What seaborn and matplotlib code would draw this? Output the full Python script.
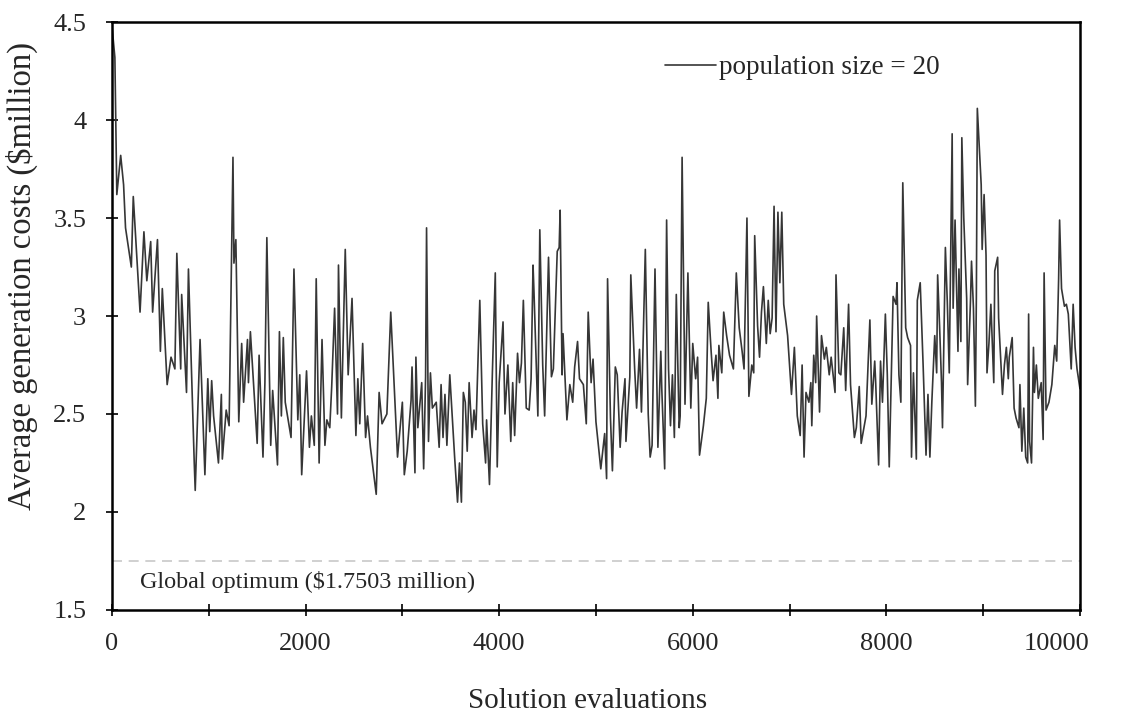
""" average generation cost of a GA run (population size = 20) against solution evaluations,
    with the known global optimum drawn as a dashed reference line """

import matplotlib
matplotlib.use('Agg')
import matplotlib.pyplot as plt # matplotlib graphing capabilities
import matplotlib.transforms as mtransforms
import seaborn as sns # seaborn graphing capabilities

# ~~~~~~~~~  Data  ~~~~ ~~~~~~ ~~~~~~~~~~~~ ~~~~~~~~~~ ~~~~ ~~~~~ ~~~~~~~~~~ ~ #
evaluations = [
    0, 30, 50, 90, 120, 140, 200, 220, 290, 330, 360, 400, 420, 470, 500, 520, 570, 610, 650, 670,
    710, 720, 770, 790, 850, 860, 910, 960, 990, 1010, 1030, 1050, 1100, 1130, 1140, 1180, 1210,
    1250, 1260, 1280, 1310, 1340, 1360, 1400, 1410, 1430, 1500, 1520, 1560, 1580, 1600, 1640, 1660,
    1710, 1730, 1750, 1770, 1790, 1850, 1880, 1920, 1940, 1960, 2010, 2040, 2060, 2090, 2110, 2140,
    2170, 2200, 2220, 2250, 2270, 2300, 2330, 2340, 2370, 2410, 2440, 2480, 2520, 2540, 2560, 2590,
    2620, 2640, 2670, 2730, 2760, 2790, 2840, 2880, 2950, 3000, 3020, 3050, 3090, 3100, 3130, 3140,
    3160, 3200, 3220, 3240, 3250, 3270, 3290, 3310, 3350, 3380, 3400, 3420, 3440, 3460, 3490, 3540,
    3570, 3590, 3610, 3630, 3650, 3670, 3690, 3720, 3740, 3760, 3800, 3830, 3860, 3870, 3900, 3930,
    3960, 3980, 4000, 4040, 4060, 4090, 4120, 4140, 4160, 4190, 4210, 4230, 4250, 4280, 4310, 4330,
    4350, 4360, 4400, 4420, 4450, 4470, 4510, 4540, 4560, 4600, 4620, 4630, 4650, 4660, 4700, 4730,
    4760, 4780, 4810, 4830, 4870, 4900, 4920, 4950, 4970, 5000, 5050, 5090, 5110, 5120, 5150, 5170,
    5200, 5220, 5250, 5270, 5300, 5310, 5350, 5360, 5400, 5420, 5450, 5470, 5480, 5510, 5540, 5560,
    5580, 5610, 5640, 5670, 5680, 5710, 5730, 5750, 5770, 5790, 5810, 5830, 5860, 5870, 5890, 5920,
    5950, 5980, 6000, 6030, 6050, 6070, 6110, 6140, 6160, 6190, 6210, 6240, 6260, 6270, 6300, 6320,
    6350, 6380, 6420, 6450, 6480, 6510, 6530, 6560, 6580, 6610, 6630, 6640, 6670, 6690, 6710, 6730,
    6760, 6780, 6800, 6820, 6840, 6860, 6880, 6900, 6920, 6940, 6980, 7020, 7050, 7080, 7110, 7130,
    7150, 7170, 7200, 7220, 7230, 7250, 7270, 7280, 7310, 7330, 7360, 7380, 7410, 7430, 7470, 7480,
    7510, 7530, 7560, 7580, 7610, 7630, 7670, 7690, 7720, 7740, 7790, 7830, 7850, 7880, 7890, 7920,
    7940, 7960, 7990, 8010, 8030, 8070, 8100, 8110, 8130, 8150, 8170, 8200, 8220, 8250, 8260, 8280,
    8310, 8320, 8350, 8380, 8410, 8430, 8450, 8470, 8500, 8520, 8530, 8550, 8570, 8580, 8610, 8630,
    8650, 8680, 8690, 8710, 8740, 8750, 8770, 8780, 8800, 8830, 8840, 8870, 8880, 8900, 8920, 8930,
    8940, 8980, 8990, 9010, 9030, 9040, 9060, 9080, 9110, 9120, 9150, 9160, 9200, 9220, 9240, 9260,
    9270, 9300, 9320, 9340, 9370, 9380, 9400, 9420, 9440, 9460, 9470, 9480, 9500, 9520, 9530, 9550,
    9570, 9600, 9620, 9630, 9650, 9680, 9710, 9740, 9760, 9780, 9790, 9810, 9840, 9860, 9880, 9910,
    9930, 9950, 9970, 10000]

avg_costs = [
    4.48, 4.32, 3.62, 3.82, 3.67, 3.45, 3.25, 3.61, 3.02, 3.43, 3.18, 3.38, 3.02, 3.39, 2.82, 3.14,
    2.65, 2.79, 2.73, 3.32, 2.73, 3.11, 2.61, 3.24, 2.25, 2.11, 2.88, 2.19, 2.68, 2.41, 2.67, 2.49,
    2.25, 2.60, 2.27, 2.52, 2.44, 3.81, 3.27, 3.39, 2.46, 2.86, 2.56, 2.88, 2.66, 2.92, 2.35, 2.80,
    2.28, 2.66, 3.40, 2.34, 2.62, 2.24, 2.92, 2.49, 2.89, 2.56, 2.38, 3.24, 2.47, 2.70, 2.19, 2.72,
    2.33, 2.49, 2.34, 3.19, 2.25, 2.88, 2.34, 2.47, 2.43, 2.64, 3.04, 2.50, 3.26, 2.48, 3.34, 2.70,
    3.09, 2.39, 2.68, 2.45, 2.86, 2.38, 2.49, 2.33, 2.09, 2.61, 2.45, 2.50, 3.02, 2.28, 2.56, 2.19,
    2.31, 2.57, 2.74, 2.20, 2.79, 2.43, 2.66, 2.22, 2.69, 3.45, 2.36, 2.71, 2.53, 2.56, 2.33, 2.65,
    2.38, 2.60, 2.34, 2.70, 2.28, 2.05, 2.25, 2.05, 2.61, 2.56, 2.31, 2.66, 2.38, 2.52, 2.42, 3.08,
    2.45, 2.25, 2.47, 2.14, 2.71, 3.22, 2.23, 2.66, 2.97, 2.50, 2.75, 2.36, 2.66, 2.39, 2.81, 2.66,
    2.76, 3.08, 2.53, 2.52, 2.68, 3.26, 3.12, 2.49, 3.44, 2.75, 2.49, 3.30, 2.69, 2.73, 3.33, 3.35,
    3.54, 2.70, 2.91, 2.47, 2.65, 2.56, 2.74, 2.87, 2.68, 2.65, 2.45, 3.02, 2.66, 2.78, 2.46, 2.22,
    2.40, 2.17, 3.19, 2.48, 2.21, 2.74, 2.70, 2.33, 2.51, 2.68, 2.36, 2.69, 3.21, 2.73, 2.53, 2.83,
    2.51, 2.71, 3.34, 2.50, 2.28, 2.34, 3.24, 2.33, 2.82, 2.63, 2.22, 3.49, 2.73, 2.44, 2.70, 2.38,
    3.11, 2.43, 2.49, 3.81, 2.55, 3.22, 2.53, 2.86, 2.68, 2.79, 2.29, 2.44, 2.58, 3.07, 2.82, 2.67,
    2.80, 2.58, 2.85, 2.71, 3.02, 2.90, 2.80, 2.73, 3.22, 2.94, 2.82, 2.73, 3.50, 2.59, 2.75, 2.71,
    3.41, 2.95, 2.79, 3.02, 3.15, 2.86, 3.08, 2.91, 2.99, 3.56, 2.92, 3.53, 3.17, 3.53, 3.06, 2.90,
    2.60, 2.84, 2.49, 2.39, 2.75, 2.28, 2.61, 2.56, 2.66, 2.44, 2.80, 2.66, 3.00, 2.51, 2.90, 2.78,
    2.84, 2.70, 2.79, 2.61, 3.21, 2.71, 2.70, 2.94, 2.62, 3.06, 2.65, 2.38, 2.43, 2.64, 2.35, 2.49,
    2.98, 2.55, 2.77, 2.66, 2.24, 2.77, 2.56, 3.01, 2.70, 2.23, 3.10, 3.06, 3.17, 2.70, 2.56, 3.68,
    2.94, 2.89, 2.85, 2.28, 2.71, 2.27, 3.08, 3.17, 2.75, 2.29, 2.60, 2.28, 2.56, 2.90, 2.71, 3.21,
    2.95, 2.66, 2.43, 3.35, 3.07, 2.71, 3.93, 3.04, 3.49, 2.82, 3.24, 2.87, 3.91, 3.50, 3.09, 2.65,
    3.09, 3.28, 3.04, 2.54, 3.09, 4.06, 3.67, 3.34, 3.62, 3.31, 2.71, 2.86, 3.06, 2.66, 3.23, 3.30,
    2.99, 2.60, 2.75, 2.84, 2.68, 2.79, 2.89, 2.53, 2.48, 2.43, 2.65, 2.31, 2.53, 2.28, 2.25, 3.01,
    2.36, 2.25, 2.84, 2.61, 2.75, 2.58, 2.66, 2.37, 3.22, 2.52, 2.56, 2.65, 2.85, 2.77, 3.19, 3.49,
    3.14, 3.05, 3.06, 3.01, 2.73, 3.06, 2.84, 2.73, 2.63]

global_optimum = 1.7503 # $ million
x_ticks = [0, 2000, 4000, 6000, 8000, 10000]
y_ticks = [1.5, 2, 2.5, 3, 3.5, 4, 4.5]
y_tick_labels = ['1.5', '2', '2.5', '3', '3.5', '4', '4.5']

# ~~~~~~~~~  Program Execution     ~~ ~~~~ ~~~~~~ ~~~~~~~~~~~~ ~~~~~~~~~~ ~~~~ ~~~~~ ~~~~~~~~~~ ~ #
sns.set_style('white') # plain background
plt.rcParams['font.family'] = ['Liberation Serif', 'DejaVu Serif'] # times-like text
plt.rcParams['mathtext.default'] = 'regular'

fig = plt.figure(figsize=(11.22, 7.15), dpi=100)
axes = fig.add_axes([0.0998, 0.147, 0.8627, 0.822])

# the cost curve
sns.lineplot(x=evaluations, y=avg_costs, ax=axes, color='#363636', linewidth=1.2,
             label='population size = 20')

# dashed line for the global optimum and its note
axes.axhline(global_optimum, color='#c8c8c8', linestyle=(0, (6, 4)), linewidth=1.2)
axes.text(290, 1.64, 'Global optimum (\\$1.7503 million)', fontsize=17.4, ha='left', va='center')

# axis ranges, ticks and labels
axes.set_xlim(0, 10000)
axes.set_ylim(1.5, 4.5)
axes.set_xticks(x_ticks)
axes.set_xticks(range(0, 10001, 1000), minor=True)
axes.set_yticks(y_ticks)
axes.set_yticklabels(y_tick_labels)
axes.tick_params(axis='both', which='both', direction='inout', length=9, width=1.2,
                 color='black', labelsize=19, bottom=True, left=True)
axes.tick_params(axis='x', which='major', pad=12)
axes.tick_params(axis='y', which='major', pad=14)
axes.set_xlabel('Solution evaluations', fontsize=21, va='center')
axes.set_ylabel('Average generation costs (\\$million)', fontsize=23.5, va='center')
axes.xaxis.set_label_coords(0.491, -0.155)
axes.yaxis.set_label_coords(-0.093, 0.568)

# the last x label sits a little inside the frame, as in the source
last_label = axes.get_xticklabels()[-1]
last_label.set_transform(last_label.get_transform() +
                         mtransforms.ScaledTranslation(-0.23, 0, fig.dpi_scale_trans))

for spine in axes.spines.values():
    spine.set_color('black')
    spine.set_linewidth(1.8)

# legend in the upper right, no frame
legend = axes.legend(loc='upper right', frameon=False, fontsize=19.5, handlelength=1.9,
                     handletextpad=0.1, bbox_to_anchor=(0.88, 0.985))

fig.savefig('out.png', dpi=100)
